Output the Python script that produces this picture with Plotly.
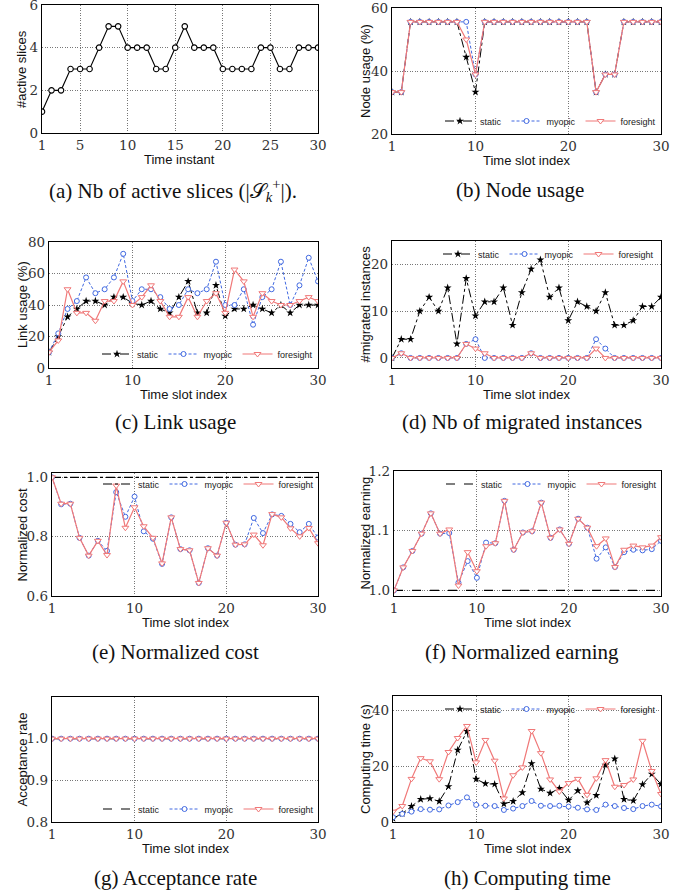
import plotly.graph_objects as go

W, H = 693, 895

slots = list(range(1, 31))

# (a) number of active slices
active_slices = [1, 2, 2, 3, 3, 3, 4, 5, 5, 4, 4, 4, 3, 3, 4, 5, 4, 4, 4, 3, 3, 3, 3, 4, 4, 3, 3, 4, 4, 4]

# (b) node usage (%)
node_static = [33.3, 33.3, 55.6, 55.6, 55.6, 55.6, 55.6, 55.6, 44.4, 33.3,
               55.6, 55.6, 55.6, 55.6, 55.6, 55.6, 55.6, 55.6, 55.6, 55.6,
               55.6, 55.6, 33.3, 38.9, 38.9, 55.6, 55.6, 55.6, 55.6, 55.6]
node_myopic = [33.3, 33.3, 55.6, 55.6, 55.6, 55.6, 55.6, 55.6, 55.6, 38.9,
               55.6, 55.6, 55.6, 55.6, 55.6, 55.6, 55.6, 55.6, 55.6, 55.6,
               55.6, 55.6, 33.3, 38.9, 38.9, 55.6, 55.6, 55.6, 55.6, 55.6]
node_foresight = [33.3, 33.3, 55.6, 55.6, 55.6, 55.6, 55.6, 55.6, 50.0, 38.9,
                  55.6, 55.6, 55.6, 55.6, 55.6, 55.6, 55.6, 55.6, 55.6, 55.6,
                  55.6, 55.6, 33.3, 38.9, 38.9, 55.6, 55.6, 55.6, 55.6, 55.6]

# (c) link usage (%)
link_static = [10, 20, 32.5, 37.5, 42.5, 42.5, 40, 45, 45, 41,
               40, 42.5, 37.5, 35, 45, 55, 35, 35, 52.5, 33,
               37.5, 37.5, 40, 37.5, 35, 40, 35, 40, 40, 40]
link_myopic = [10, 22, 37.5, 42.5, 57.5, 47.5, 50, 57.5, 72.5, 42.5,
               50, 50, 45, 37.5, 40, 50, 47.5, 50, 67.5, 40,
               40, 50, 27.5, 45, 50, 67.5, 40, 52.5, 70, 55]
link_foresight = [10, 17.5, 50, 35, 35, 30, 42.5, 42.5, 55, 40,
                  45, 52.5, 42.5, 32.5, 32.5, 45, 32.5, 42.5, 47.5, 35,
                  62.5, 55, 32.5, 47.5, 42.5, 40, 40, 42.5, 45, 42.5]

# (d) number of migrated instances
mig_static = [0, 4, 4, 10, 13, 10, 15, 3, 17, 9,
              12, 12, 15, 7, 14, 19, 21, 13, 15, 8,
              12, 11, 10, 14, 7, 7, 8, 11, 11, 13]
mig_myopic = [0, 1, 0, 0, 0, 0, 0, 0, 3, 4,
              0, 0, 0, 0, 0, 1, 0, 0, 0, 0,
              0, 0, 4, 2, 0, 0, 0, 0, 0, 0]
mig_foresight = [0, 1, 0, 0, 0, 0, 0, 0, 3, 2,
                 1, 0, 0, 0, 0, 1, 0, 0, 0, 0,
                 0, 0, 2, 0, 0, 0, 0, 0, 0, 0]

# (e) normalized cost
cost_static = [1.0, 1.0, 1.0, 1.0, 1.0, 1.0, 1.0, 1.0, 1.0, 1.0,
               1.0, 1.0, 1.0, 1.0, 1.0, 1.0, 1.0, 1.0, 1.0, 1.0,
               1.0, 1.0, 1.0, 1.0, 1.0, 1.0, 1.0, 1.0, 1.0, 1.0]
cost_myopic = [1.0, 0.909, 0.911, 0.796, 0.736, 0.786, 0.752, 0.950, 0.867, 0.935,
               0.818, 0.793, 0.708, 0.865, 0.758, 0.754, 0.644, 0.761, 0.736, 0.847,
               0.773, 0.774, 0.863, 0.812, 0.875, 0.870, 0.843, 0.815, 0.843, 0.797]
cost_foresight = [1.0, 0.911, 0.911, 0.796, 0.736, 0.786, 0.738, 0.972, 0.830, 0.899,
                  0.835, 0.796, 0.710, 0.865, 0.758, 0.754, 0.644, 0.761, 0.736, 0.847,
                  0.773, 0.774, 0.807, 0.771, 0.876, 0.865, 0.828, 0.801, 0.829, 0.778]

# (f) normalized earning
earn_static = [1.0, 1.0, 1.0, 1.0, 1.0, 1.0, 1.0, 1.0, 1.0, 1.0,
               1.0, 1.0, 1.0, 1.0, 1.0, 1.0, 1.0, 1.0, 1.0, 1.0,
               1.0, 1.0, 1.0, 1.0, 1.0, 1.0, 1.0, 1.0, 1.0, 1.0]
earn_myopic = [1.0, 1.0385, 1.066, 1.095, 1.129, 1.095, 1.096, 1.013, 1.049, 1.021,
               1.080, 1.079, 1.150, 1.068, 1.097, 1.099, 1.147, 1.088, 1.102, 1.078,
               1.120, 1.105, 1.053, 1.072, 1.039, 1.064, 1.068, 1.067, 1.069, 1.083]
earn_foresight = [1.0, 1.0385, 1.066, 1.095, 1.129, 1.095, 1.102, 1.008, 1.064, 1.032,
                  1.074, 1.079, 1.150, 1.068, 1.097, 1.099, 1.147, 1.088, 1.102, 1.078,
                  1.120, 1.105, 1.074, 1.087, 1.039, 1.068, 1.075, 1.072, 1.075, 1.089]

# (g) acceptance rate
acc_static = [1.0, 1.0, 1.0, 1.0, 1.0, 1.0, 1.0, 1.0, 1.0, 1.0,
              1.0, 1.0, 1.0, 1.0, 1.0, 1.0, 1.0, 1.0, 1.0, 1.0,
              1.0, 1.0, 1.0, 1.0, 1.0, 1.0, 1.0, 1.0, 1.0, 1.0]
acc_myopic = [1.0, 1.0, 1.0, 1.0, 1.0, 1.0, 1.0, 1.0, 1.0, 1.0,
              1.0, 1.0, 1.0, 1.0, 1.0, 1.0, 1.0, 1.0, 1.0, 1.0,
              1.0, 1.0, 1.0, 1.0, 1.0, 1.0, 1.0, 1.0, 1.0, 1.0]
acc_foresight = [1.0, 1.0, 1.0, 1.0, 1.0, 1.0, 1.0, 1.0, 1.0, 1.0,
                 1.0, 1.0, 1.0, 1.0, 1.0, 1.0, 1.0, 1.0, 1.0, 1.0,
                 1.0, 1.0, 1.0, 1.0, 1.0, 1.0, 1.0, 1.0, 1.0, 1.0]

# (h) computing time (s)
time_static = [1.3, 3.0, 5.6, 8.1, 8.4, 7.4, 12.7, 25.7, 32.4, 15.3,
               13.7, 13.5, 6.5, 7.4, 10.5, 20.9, 11.8, 10.3, 12.0, 7.8,
               11.2, 6.9, 9.5, 20.3, 22.6, 8.1, 7.6, 13.4, 17.1, 13.5]
time_myopic = [1.7, 2.9, 3.7, 4.6, 4.4, 4.5, 5.9, 7.1, 8.8, 6.1,
               5.8, 5.7, 4.3, 4.8, 5.7, 7.5, 5.8, 5.7, 5.8, 5.5,
               5.1, 4.5, 4.3, 6.2, 5.7, 5.0, 4.6, 5.7, 6.2, 5.6]
time_foresight = [3.7, 5.7, 15.4, 22.8, 21.7, 15.3, 25.0, 30.0, 34.3, 21.3,
                  29.3, 21.9, 8.4, 16.7, 19.5, 32.5, 24.6, 15.2, 10.9, 13.9,
                  15.4, 9.7, 15.6, 22.1, 12.6, 13.2, 15.2, 29.0, 18.2, 10.0]

series_names = ["static", "myopic", "foresight"]

# ---------------- styling ----------------
TICK_FONT = dict(family="DejaVu Serif", size=13.5, color="#333333")
TITLE_FONT = dict(family="Liberation Sans", size=13, color="#111111")
LEG_FONT = dict(family="Liberation Sans", size=9, color="#222222")
CAP_FONT = dict(family="Liberation Serif", size=21, color="#111111")

BLUE = "#4169E1"
RED = "#F07878"

fig = go.Figure()

# panel geometry in pixels: (x0, x1, y0, y1)
panels = [
    (42, 318, 5, 133),
    (392, 661, 8, 134),
    (49, 318, 242, 368),
    (392, 661, 241, 368),
    (52, 318, 473, 596),
    (394, 661, 471, 596),
    (52, 318, 697, 822),
    (393, 661, 696, 822),
]


def ax_name(i, kind):
    return kind + ("" if i == 0 else str(i + 1))


def setup_axes(i, yrange, ytickvals, yticktext, xtickvals):
    x0, x1, y0, y1 = panels[i]
    common = dict(showline=True, mirror=True, linecolor="black", linewidth=1.4,
                  showgrid=True, gridcolor="#777777", gridwidth=0.8, griddash="1px,1.5px",
                  zeroline=False, ticks="", tickfont=TICK_FONT, fixedrange=True,
                  automargin=False, ticklabeloverflow="allow")
    xa = dict(domain=[x0 / W, x1 / W], range=[1, 30], tickmode="array",
              tickvals=xtickvals, ticktext=[str(v) for v in xtickvals],
              anchor=ax_name(i, "y"), **common)
    ya = dict(domain=[1 - y1 / H, 1 - y0 / H], range=yrange, tickmode="array",
              tickvals=ytickvals, ticktext=yticktext,
              anchor=ax_name(i, "x"), **common)
    fig.layout[ax_name(i, "xaxis")] = xa
    fig.layout[ax_name(i, "yaxis")] = ya


def add_titles(i, xtitle, ytitle, ytitle_x):
    x0, x1, y0, y1 = panels[i]
    fig.add_annotation(x=(x0 + x1) / 2 / W, y=1 - (y1 + 26.5) / H, xref="paper", yref="paper",
                       text=xtitle, showarrow=False, font=TITLE_FONT,
                       xanchor="center", yanchor="middle")
    fig.add_annotation(x=ytitle_x / W, y=1 - (y0 + y1) / 2 / H, xref="paper", yref="paper",
                       text=ytitle, showarrow=False, font=TITLE_FONT, textangle=-90,
                       xanchor="center", yanchor="middle")


def add_caption(text, cx, cy):
    fig.add_annotation(x=cx / W, y=1 - cy / H, xref="paper", yref="paper",
                       text=text, showarrow=False, font=CAP_FONT,
                       xanchor="center", yanchor="middle")


def add_three(i, ys, legend, static_markers=True, static_dash="dashdot"):
    xa, ya = ax_name(i, "x"), ax_name(i, "y")
    s, m, f = ys
    if static_markers:
        fig.add_trace(go.Scatter(x=slots, y=s, name=series_names[0], mode="lines+markers",
                                 line=dict(color="black", width=1, dash=static_dash),
                                 marker=dict(symbol="star", size=6, color="black"),
                                 xaxis=xa, yaxis=ya, legend=legend))
    else:
        fig.add_trace(go.Scatter(x=slots, y=s, name=series_names[0], mode="lines",
                                 line=dict(color="black", width=1.2, dash=static_dash),
                                 xaxis=xa, yaxis=ya, legend=legend))
    fig.add_trace(go.Scatter(x=slots, y=m, name=series_names[1], mode="lines+markers",
                             line=dict(color=BLUE, width=1, dash="3px,2px"),
                             marker=dict(symbol="circle", size=5, color="white",
                                         line=dict(color=BLUE, width=1)),
                             xaxis=xa, yaxis=ya, legend=legend))
    fig.add_trace(go.Scatter(x=slots, y=f, name=series_names[2], mode="lines+markers",
                             line=dict(color=RED, width=1.2),
                             marker=dict(symbol="triangle-down", size=6, color="white",
                                         line=dict(color=RED, width=1)),
                             xaxis=xa, yaxis=ya, legend=legend))


def legend_cfg(lx, ly):
    return dict(orientation="h", x=lx / W, y=1 - ly / H, xanchor="left", yanchor="middle",
                bgcolor="rgba(0,0,0,0)", borderwidth=0, font=LEG_FONT,
                itemwidth=30, traceorder="normal", itemclick=False, itemdoubleclick=False)


X_TICKS_A = [1, 5, 10, 15, 20, 25, 30]
X_TICKS = [1, 10, 20, 30]

# (a)
setup_axes(0, [0, 6], [0, 2, 4, 6], ["0", "2", "4", "6"], X_TICKS_A)
fig.add_trace(go.Scatter(x=slots, y=active_slices, mode="lines+markers", showlegend=False,
                         line=dict(color="black", width=1.1),
                         marker=dict(symbol="circle", size=5.5, color="white",
                                     line=dict(color="black", width=1.1)),
                         xaxis="x", yaxis="y"))
add_titles(0, "Time instant", "#active slices", 22)
add_caption("(a) Nb of active slices (|𝒮<sub><i>k</i></sub><sup>+</sup>|).", 173, 190)

# (b)
setup_axes(1, [20, 60], [20, 40, 60], ["20", "40", "60"], X_TICKS)
add_three(1, (node_static, node_myopic, node_foresight), "legend")
add_titles(1, "Time slot index", "Node usage (%)", 366)
add_caption("(b) Node usage", 520, 190)

# (c)
setup_axes(2, [0, 80], [0, 20, 40, 60, 80], ["0", "20", "40", "60", "80"], X_TICKS)
add_three(2, (link_static, link_myopic, link_foresight), "legend2")
add_titles(2, "Time slot index", "Link usage (%)", 23)
add_caption("(c) Link usage", 175, 422)

# (d)
setup_axes(3, [-2.15, 25], [0, 10, 20], ["0", "10", "20"], X_TICKS)
add_three(3, (mig_static, mig_myopic, mig_foresight), "legend3")
add_titles(3, "Time slot index", "#migrated instances", 365)
add_caption("(d) Nb of migrated instances", 522, 422)

# (e)
setup_axes(4, [0.6, 1.0145], [0.6, 0.8, 1.0], ["0.6", "0.8", "1.0"], X_TICKS)
add_three(4, (cost_static, cost_myopic, cost_foresight), "legend4", static_markers=False)
add_titles(4, "Time slot index", "Normalized cost", 22)
add_caption("(e) Normalized cost", 175, 652)

# (f)
setup_axes(5, [0.9905, 1.2], [1.0, 1.1, 1.2], ["1.0", "1.1", "1.2"], X_TICKS)
add_three(5, (earn_static, earn_myopic, earn_foresight), "legend5", static_markers=False,
          static_dash="dash")
add_titles(5, "Time slot index", "Normalized earning", 365)
add_caption("(f) Normalized earning", 522, 652)

# (g)
setup_axes(6, [0.8, 1.1], [0.8, 0.9, 1.0], ["0.8", "0.9", "1.0"], X_TICKS)
add_three(6, (acc_static, acc_myopic, acc_foresight), "legend6", static_markers=False,
          static_dash="dash")
add_titles(6, "Time slot index", "Acceptance rate", 22)
add_caption("(g) Acceptance rate", 175, 878)

# (h)
setup_axes(7, [0, 45], [0, 20, 40], ["0", "20", "40"], X_TICKS)
add_three(7, (time_static, time_myopic, time_foresight), "legend7")
add_titles(7, "Time slot index", "Computing time (s)", 365)
add_caption("(h) Computing time", 527, 878)

fig.update_layout(
    width=W, height=H, margin=dict(l=0, r=0, t=0, b=0, autoexpand=False),
    paper_bgcolor="white", plot_bgcolor="white",
    showlegend=True, hovermode=False,
    legend=legend_cfg(440, 121),
    legend2=legend_cfg(97, 354),
    legend3=legend_cfg(438, 254),
    legend4=legend_cfg(98, 484),
    legend5=legend_cfg(441, 484),
    legend6=legend_cfg(98, 809),
    legend7=legend_cfg(440, 709),
)

fig.write_html("out.html",
               config={"displayModeBar": False, "staticPlot": False},
               post_script="document.body.style.margin='0px';"
                           "document.body.style.overflow='hidden';")
